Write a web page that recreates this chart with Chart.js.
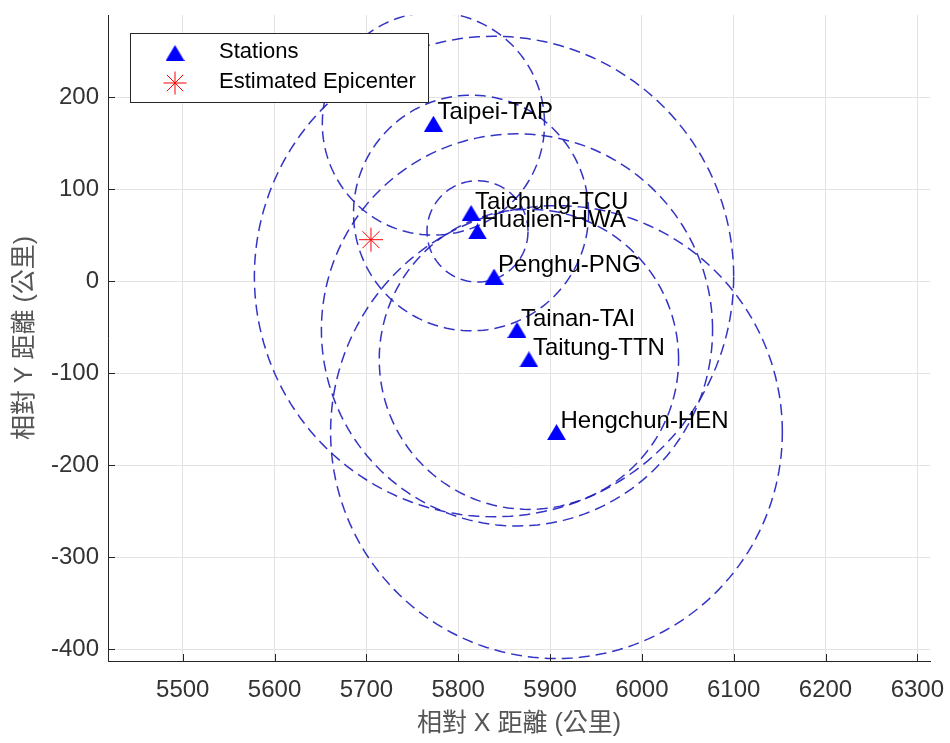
<!DOCTYPE html>
<html>
<head>
<meta charset="utf-8">
<script src="https://cdn.jsdelivr.net/npm/chart.js@4.4.1/dist/chart.umd.min.js"></script>
<style>
  html, body { margin: 0; padding: 0; background: #fff; }
  #wrap { width: 950px; height: 743px; }
</style>
</head>
<body>
<div id="wrap"><canvas id="grafico"></canvas></div>
<script>
// station names and positions
const stationNames = ["Taipei-TAP", "Taichung-TCU", "Hualien-HWA", "Penghu-PNG", "Tainan-TAI", "Taitung-TTN", "Hengchun-HEN"];
const stationX = [5773, 5814, 5821, 5839, 5864, 5877, 5907];
const stationY = [171, 74, 54, 5, -53, -85, -164];
// distance circles, one per station
const stationRadius = [121, 128, 55, 261, 213, 163, 246];
// estimated epicenter
const epicenterX = [5705];
const epicenterY = [45];
// tick labels
const xTicks = [5500, 5600, 5700, 5800, 5900, 6000, 6100, 6200, 6300];
const yTicks = [-400, -300, -200, -100, 0, 100, 200];

const FONT = "'Liberation Sans', Arial, 'Noto Sans CJK TC', sans-serif";
const AXIS_COLOR = '#262626';

function circlePoints(cx, cy, r) {
  let pts = [];
  for (let a = 0; a <= 360; a += 2) {
    let t = a * Math.PI / 180;
    pts.push({ x: cx + r * Math.cos(t), y: cy + r * Math.sin(t) });
  }
  return pts;
}

// matlab '^' marker: triangle centred on its bounding box
function triangleMarker(w, h, color) {
  const c = document.createElement('canvas');
  c.width = w;
  c.height = h;
  const g = c.getContext('2d');
  g.fillStyle = color;
  g.beginPath();
  g.moveTo(w / 2, 0);
  g.lineTo(w, h);
  g.lineTo(0, h);
  g.closePath();
  g.fill();
  return c;
}

const triangle = triangleMarker(19, 16, '#0000ff');

let datasets = [];

datasets.push({
  label: 'Estimated Epicenter',
  data: epicenterX.map(function (x, i) { return { x: x, y: epicenterY[i] }; }),
  pointStyle: 'star',
  pointRadius: 12,
  borderColor: '#ff0000',
  backgroundColor: '#ff0000',
  borderWidth: 1
});

datasets.push({
  label: 'Stations',
  data: stationX.map(function (x, i) { return { x: x, y: stationY[i] }; }),
  pointStyle: triangle,
  pointRadius: 10,
  borderWidth: 0
});

for (let i = 0; i < stationX.length; i++) {
  datasets.push({
    label: 'circle ' + stationNames[i],
    data: circlePoints(stationX[i], stationY[i], stationRadius[i]),
    showLine: true,
    pointRadius: 0,
    borderColor: 'rgba(30, 30, 190, 0.9)',
    borderWidth: 1.5,
    borderDash: [11, 6],
    fill: false,
    tension: 0
  });
}

// station name labels
const stationLabels = {
  id: 'stationLabels',
  afterDatasetsDraw(chart) {
    const ctx = chart.ctx;
    const sx = chart.scales.x, sy = chart.scales.y;
    ctx.save();
    ctx.font = '24px ' + FONT;
    ctx.fillStyle = '#000';
    ctx.textAlign = 'left';
    ctx.textBaseline = 'middle';
    for (let i = 0; i < stationNames.length; i++) {
      ctx.fillText(stationNames[i], sx.getPixelForValue(stationX[i]) + 4, sy.getPixelForValue(stationY[i]) - 11);
    }
    ctx.restore();
  }
};

// matlab style inward ticks
const inwardTicks = {
  id: 'inwardTicks',
  afterDraw(chart) {
    const ctx = chart.ctx;
    const a = chart.chartArea;
    const sx = chart.scales.x, sy = chart.scales.y;
    ctx.save();
    ctx.strokeStyle = AXIS_COLOR;
    ctx.lineWidth = 1;
    ctx.beginPath();
    xTicks.forEach(function (v) {
      const p = Math.round(sx.getPixelForValue(v)) + 0.5;
      ctx.moveTo(p, a.bottom);
      ctx.lineTo(p, a.bottom - 7);
    });
    yTicks.forEach(function (v) {
      const p = Math.round(sy.getPixelForValue(v)) + 0.5;
      ctx.moveTo(a.left, p);
      ctx.lineTo(a.left + 7, p);
    });
    ctx.stroke();
    ctx.restore();
  }
};

// legend box in the upper left corner
const legendBox = {
  id: 'legendBox',
  afterDraw(chart) {
    const ctx = chart.ctx;
    const left = chart.chartArea.left + 22, top = chart.chartArea.top + 18;
    const w = 298, h = 69;
    ctx.save();
    ctx.fillStyle = '#fff';
    ctx.fillRect(left, top, w, h);
    ctx.strokeStyle = AXIS_COLOR;
    ctx.lineWidth = 1;
    ctx.strokeRect(left + 0.5, top + 0.5, w, h);

    ctx.drawImage(triangle, left + 45 - triangle.width / 2, top + 20 - triangle.height / 2);

    // star
    const s = 11.5;
    const stx = left + 45, sty = top + 50;
    ctx.strokeStyle = '#ff0000';
    ctx.beginPath();
    for (let k = 0; k < 4; k++) {
      const t = k * Math.PI / 4;
      ctx.moveTo(stx + s * Math.cos(t), sty + s * Math.sin(t));
      ctx.lineTo(stx - s * Math.cos(t), sty - s * Math.sin(t));
    }
    ctx.stroke();

    ctx.fillStyle = '#000';
    ctx.font = '22px ' + FONT;
    ctx.textAlign = 'left';
    ctx.textBaseline = 'middle';
    ctx.fillText('Stations', left + 89, top + 19);
    ctx.fillText('Estimated Epicenter', left + 89, top + 49);
    ctx.restore();
  }
};

const config = {
  type: 'scatter',
  data: { datasets: datasets },
  options: {
    responsive: true,
    maintainAspectRatio: false,
    animation: false,
    events: [],
    layout: { padding: { top: 15, right: 20, left: 0, bottom: 0 } },
    plugins: {
      legend: { display: false },
      tooltip: { enabled: false }
    },
    scales: {
      x: {
        type: 'linear',
        min: 5418.6,
        max: 6313.8,
        afterBuildTicks: function (scale) { scale.ticks = xTicks.map(function (v) { return { value: v }; }); },
        afterFit: function (scale) { scale.height = 82; scale.paddingLeft = 0; scale.paddingRight = 0; },
        grid: { color: '#e3e3e3', lineWidth: 1, drawTicks: false },
        border: { display: true, color: AXIS_COLOR, width: 1 },
        ticks: {
          font: { size: 24, family: FONT }, color: '#333', padding: 15, maxRotation: 0, autoSkip: false,
          callback: function (v) { return String(v); }
        },
        title: { display: true, text: '相對 X 距離 (公里)', font: { size: 25, family: FONT }, color: '#555', padding: { top: 0, bottom: 4 } }
      },
      y: {
        type: 'linear',
        min: -412.7,
        max: 289.1,
        afterBuildTicks: function (scale) { scale.ticks = yTicks.map(function (v) { return { value: v }; }); },
        afterFit: function (scale) { scale.width = 108; scale.paddingTop = 0; scale.paddingBottom = 0; },
        grid: { color: '#e3e3e3', lineWidth: 1, drawTicks: false },
        border: { display: true, color: AXIS_COLOR, width: 1 },
        ticks: {
          font: { size: 24, family: FONT }, color: '#333', padding: 9, autoSkip: false,
          callback: function (v) { return String(v); }
        },
        title: { display: true, text: '相對 Y 距離 (公里)', font: { size: 25, family: FONT }, color: '#555', padding: { top: 10, bottom: 0 } }
      }
    }
  },
  plugins: [stationLabels, inwardTicks, legendBox]
};

let myChart = new Chart(document.getElementById('grafico'), config);
</script>
</body>
</html>
